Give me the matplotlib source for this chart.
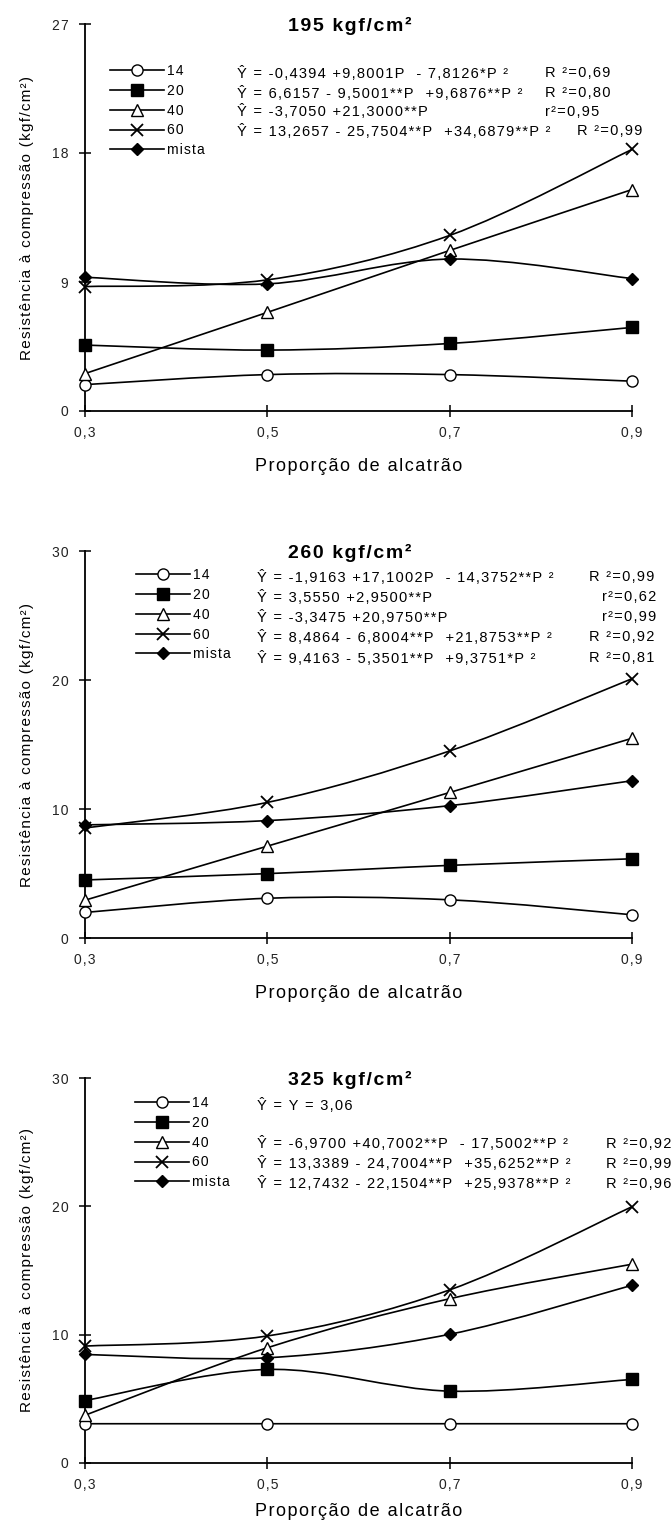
import numpy as np
import matplotlib
matplotlib.use("Agg")
import matplotlib.pyplot as plt
from matplotlib.path import Path
from matplotlib.patches import PathPatch
from matplotlib.lines import Line2D

plt.rcParams['font.family'] = ['Liberation Sans', 'DejaVu Sans']

# proporção de alcatrão
proporcao = [0.3, 0.5, 0.7, 0.9]
x_ticklabels = ["0,3", "0,5", "0,7", "0,9"]
series_labels = ["14", "20", "40", "60", "mista"]

# resistência à compressão (kgf/cm2) por série: 14, 20, 40, 60, mista
y195 = [[1.84, 2.54, 2.54, 2.08],
        [4.60, 4.25, 4.71, 5.83],
        [2.61, 6.88, 11.20, 15.45],
        [8.68, 9.15, 12.25, 18.25],
        [9.33, 8.87, 10.60, 9.24]]
y260 = [[1.98, 3.08, 2.96, 1.80],
        [4.50, 4.99, 5.63, 6.14],
        [2.93, 7.12, 11.28, 15.48],
        [8.53, 10.51, 14.50, 20.10],
        [8.77, 9.10, 10.26, 12.19]]
y325 = [[3.06, 3.06, 3.06, 3.06],
        [4.87, 7.29, 5.60, 6.51],
        [3.72, 8.98, 12.80, 15.49],
        [9.11, 9.90, 13.49, 19.97],
        [8.46, 8.20, 10.03, 13.85]]

eq195 = ["Ŷ = -0,4394 +9,8001P  - 7,8126*P ²",
         "Ŷ = 6,6157 - 9,5001**P  +9,6876**P ²",
         "Ŷ = -3,7050 +21,3000**P",
         "Ŷ = 13,2657 - 25,7504**P  +34,6879**P ²"]
r2_195 = ["R ²=0,69", "R ²=0,80", "r²=0,95", "R ²=0,99"]
eq260 = ["Ŷ = -1,9163 +17,1002P  - 14,3752**P ²",
         "Ŷ = 3,5550 +2,9500**P",
         "Ŷ = -3,3475 +20,9750**P",
         "Ŷ = 8,4864 - 6,8004**P  +21,8753**P ²",
         "Ŷ = 9,4163 - 5,3501**P  +9,3751*P ²"]
r2_260 = ["R ²=0,99", "r²=0,62", "r²=0,99", "R ²=0,92", "R ²=0,81"]
eq325 = ["Ŷ = Y = 3,06", "",
         "Ŷ = -6,9700 +40,7002**P  - 17,5002**P ²",
         "Ŷ = 13,3389 - 24,7004**P  +35,6252**P ²",
         "Ŷ = 12,7432 - 22,1504**P  +25,9378**P ²"]
r2_325 = ["", "", "R ²=0,92", "R ²=0,99", "R ²=0,96"]

markers = [dict(marker='o', markersize=8, markerfacecolor='white', markeredgecolor='black', markeredgewidth=1.0),
           dict(marker='s', markersize=8.5, markerfacecolor='black', markeredgecolor='black'),
           dict(marker='^', markersize=8.5, markerfacecolor='white', markeredgecolor='black', markeredgewidth=1.0),
           dict(marker='x', markersize=8.5, markeredgecolor='black', markeredgewidth=1.3),
           dict(marker='D', markersize=6.5, markerfacecolor='black', markeredgecolor='black')]


def spaced(s):
    """Texto com espaçamento extra entre letras."""
    return "\u200a".join(s)


def smooth_path(x, y):
    """Curva suavizada (Bezier) passando pelos pontos."""
    pts = np.column_stack([x, y]).astype(float)
    n = len(pts)
    verts = [pts[0]]
    codes = [Path.MOVETO]
    for i in range(n - 1):
        p0 = pts[max(i - 1, 0)]
        p1 = pts[i]
        p2 = pts[i + 1]
        p3 = pts[min(i + 2, n - 1)]
        verts += [p1 + (p2 - p0) / 6, p2 - (p3 - p1) / 6, p2]
        codes += [Path.CURVE4] * 3
    return Path(verts, codes)


fig = plt.figure(figsize=(6.71, 15.24), dpi=100)
W, H = 671, 1524

# (título, dados, eqs, r2, ymax, yticks, topo px, base px, legenda x px, eq x px,
#  r2 x px, linhas px, labelpad do eixo x)
panels = [
    ("195 kgf/cm²", y195, eq195, r2_195, 27, [0, 9, 18, 27], 24, 411, 110, 237,
     [545, 545, 545, 577], [73, 93, 112, 131], 13),
    ("260 kgf/cm²", y260, eq260, r2_260, 30, [0, 10, 20, 30], 551, 938, 136, 257,
     [589, 602, 602, 589, 589], [577, 597, 617, 637, 658], 13),
    ("325 kgf/cm²", y325, eq325, r2_325, 30, [0, 10, 20, 30], 1078, 1463, 135, 257,
     [606, 606, 606, 606, 606], [1105, 1124, 1144, 1164, 1184], 8),
]

left, right = 85, 632
for title, data, eqs, r2s, ymax, yticks, top, bot, leg_x, eq_x, r2_x, rows, xpad in panels:
    ax = fig.add_axes([left / W, 1 - bot / H, (right - left) / W, (bot - top) / H])
    for vals, mk in zip(data, markers):
        ax.add_patch(PathPatch(smooth_path(proporcao, vals), facecolor='none',
                               edgecolor='black', lw=1.2, zorder=2))
        ax.plot(proporcao, vals, linestyle='none', clip_on=False, zorder=3, **mk)

    ax.set_xlim(0.3, 0.9)
    ax.set_ylim(0, ymax)
    ax.set_xticks(proporcao)
    ax.set_xticklabels([spaced(t) for t in x_ticklabels])
    ax.set_yticks(yticks)
    ax.set_yticklabels([spaced(str(t)) for t in yticks])
    for s in ['top', 'right']:
        ax.spines[s].set_visible(False)
    for s in ['left', 'bottom']:
        ax.spines[s].set_linewidth(1.3)
    ax.tick_params(direction='inout', length=8, width=1.1, labelsize=10,
                   labelcolor='#222222', pad=7)
    ax.tick_params(axis='y', pad=8)
    ax.set_xlabel(spaced("Proporção de alcatrão"), fontsize=13, labelpad=xpad)
    ax.set_ylabel(spaced("Resistência à compressão (kgf/cm²)"), fontsize=11, labelpad=13)

    def ax_x(px):
        return (px - left) / (right - left)

    def ax_y(py):
        return (bot - py) / (bot - top)

    ax.text(ax_x(350), ax_y(top + 2), spaced(title), fontsize=14, fontweight='bold',
            ha='center', va='center', transform=ax.transAxes)

    handles = [Line2D([], [], color='black', lw=1.2, **mk) for mk in markers]
    ax.legend(handles, [spaced(l) for l in series_labels], loc='upper left',
              bbox_to_anchor=(ax_x(leg_x), ax_y(rows[0] - 9)), frameon=False,
              fontsize=10, handlelength=3.9, handletextpad=0.2, labelspacing=0.42,
              borderpad=0, borderaxespad=0)

    for eq, r2, rx, ry in zip(eqs, r2s, r2_x, rows):
        ax.text(ax_x(eq_x), ax_y(ry), spaced(eq), fontsize=10.5, ha='left', va='center',
                transform=ax.transAxes)
        ax.text(ax_x(rx), ax_y(ry), spaced(r2), fontsize=10.5, ha='left', va='center',
                transform=ax.transAxes)

fig.savefig("out.png", dpi=100)
